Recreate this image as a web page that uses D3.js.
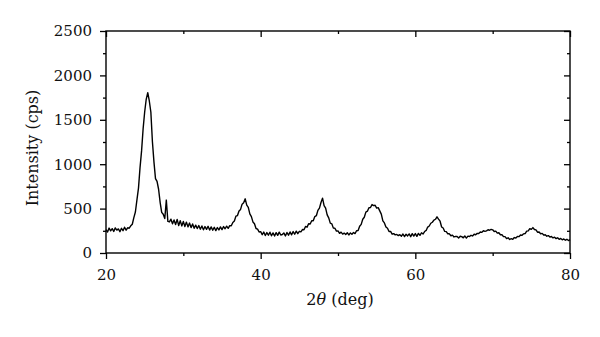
<!DOCTYPE html>
<html>
<head>
<meta charset="utf-8">
<script src="https://cdn.jsdelivr.net/npm/d3@7"></script>
<style>
  body { margin: 0; background: #fff; }
  svg { display: block; }
</style>
</head>
<body>
<div id="chart"></div>
<script>
var width = 600
var height = 337
var margin = {top: 31, right: 30, bottom: 84, left: 106}

// scan: 2theta from 20 to 80 deg, one reading every 0.2 deg
var scanStart = 20
var scanStep = 0.2
var intensity = [
    262, 236, 281, 249, 274,   // 20
    243, 283, 258, 271, 240,   // 21
    278, 251, 290, 257, 284,   // 22
    279, 306, 324, 399, 462,   // 23
    598, 731, 962, 1150, 1399, // 24
    1588, 1731, 1806, 1712, 1588, // 25
    1255, 1026, 838, 806, 718, // 26
    571, 458, 436, 388, 596,   // 27
    356, 350, 381, 329, 372,   // 28
    320, 379, 309, 364, 305,   // 29
    355, 298, 348, 294, 337,   // 30
    286, 327, 279, 314, 276,   // 31
    309, 268, 304, 262, 298,   // 32
    266, 301, 258, 294, 256,   // 33
    290, 252, 287, 260, 294,   // 34
    264, 298, 273, 302, 278,   // 35
    308, 307, 344, 360, 415,   // 36
    422, 474, 491, 550, 566,   // 37
    610, 540, 514, 440, 410,   // 38
    350, 330, 276, 269, 236,   // 39
    240, 206, 236, 197, 230,   // 40
    201, 234, 194, 226, 191,   // 41
    229, 199, 235, 203, 208,   // 42
    226, 192, 231, 201, 237,   // 43
    205, 241, 211, 246, 217,   // 44
    244, 238, 264, 262, 299,   // 45
    291, 330, 326, 364, 364,   // 46
    410, 420, 480, 506, 569,   // 47
    618, 534, 505, 430, 396,   // 48
    336, 329, 280, 279, 246,   // 49
    249, 221, 235, 213, 224,   // 50
    207, 228, 203, 226, 210,   // 51
    231, 219, 251, 253, 301,   // 52
    322, 380, 402, 460, 471,   // 53
    510, 512, 545, 533, 538,   // 54
    506, 511, 474, 438, 362,   // 55
    339, 292, 278, 242, 243,   // 56
    212, 218, 204, 209, 196,   // 57
    206, 189, 214, 185, 211,   // 58
    192, 215, 184, 218, 191,   // 59
    219, 188, 221, 199, 228,   // 60
    214, 242, 254, 292, 304,   // 61
    335, 346, 370, 380, 408,   // 62
    382, 358, 293, 281, 243,   // 63
    241, 216, 216, 194, 201,   // 64
    181, 187, 186, 170, 189,   // 65
    184, 171, 192, 168, 190,   // 66
    186, 199, 192, 211, 206,   // 67
    221, 219, 236, 232, 251,   // 68
    244, 249, 262, 256, 266,   // 69
    261, 242, 246, 224, 228,   // 70
    206, 206, 184, 184, 162,   // 71
    171, 152, 161, 154, 174,   // 72
    169, 186, 184, 202, 199,   // 73
    216, 219, 246, 249, 274,   // 74
    266, 286, 264, 261, 234,   // 75
    236, 216, 221, 202, 206,   // 76
    189, 196, 179, 186, 170,   // 77
    178, 162, 171, 154, 164,   // 78
    149, 158, 144, 154, 140,   // 79
    150                        // 80
]

var xDomain = [20, 80]
var yDomain = [0, 2500]
var xMajor = [20, 40, 60, 80]
var xMinor = [30, 50, 70]
var yMajor = [0, 500, 1000, 1500, 2000, 2500]
var yMinor = [250, 750, 1250, 1750, 2250]

var points = intensity.map(function(v, i) {
    return {t: scanStart + i * scanStep, v: v}
})

var w = width - margin.left - margin.right
var h = height - margin.top - margin.bottom

var svg = d3.select("#chart").append("svg")
    .attr("width", width)
    .attr("height", height)

var g = svg.append("g")
    .attr("transform", "translate(" + margin.left + "," + margin.top + ")")

var x = d3.scaleLinear().domain(xDomain).range([0, w])
var y = d3.scaleLinear().domain(yDomain).range([h, 0])

function styleAxis(sel) {
    sel.select(".domain").remove()
    sel.selectAll("line").attr("stroke", "#000").attr("stroke-width", 1.3)
    sel.selectAll("text")
        .style("font-family", "'DejaVu Serif', serif")
        .style("font-size", "15px")
        .attr("fill", "#111")
}

// bottom: labelled majors + short minors, outward
g.append("g").attr("transform", "translate(0," + h + ")")
    .call(d3.axisBottom(x).tickValues(xMajor).tickSize(6).tickPadding(10).tickFormat(d3.format("d")))
    .call(styleAxis)
g.append("g").attr("transform", "translate(0," + h + ")")
    .call(d3.axisBottom(x).tickValues(xMinor).tickSize(3).tickFormat(""))
    .call(styleAxis)

// left
g.append("g")
    .call(d3.axisLeft(y).tickValues(yMajor).tickSize(6).tickPadding(8).tickFormat(d3.format("d")))
    .call(styleAxis)
g.append("g")
    .call(d3.axisLeft(y).tickValues(yMinor).tickSize(3).tickFormat(""))
    .call(styleAxis)

// top and right mirror ticks, pointing in
g.append("g")
    .call(d3.axisTop(x).tickValues(xMajor).tickSize(-6).tickFormat(""))
    .call(styleAxis)
g.append("g")
    .call(d3.axisTop(x).tickValues(xMinor).tickSize(-3).tickFormat(""))
    .call(styleAxis)
g.append("g").attr("transform", "translate(" + w + ",0)")
    .call(d3.axisRight(y).tickValues(yMajor).tickSize(-6).tickFormat(""))
    .call(styleAxis)
g.append("g").attr("transform", "translate(" + w + ",0)")
    .call(d3.axisRight(y).tickValues(yMinor).tickSize(-3).tickFormat(""))
    .call(styleAxis)

// frame
g.append("rect")
    .attr("width", w)
    .attr("height", h)
    .attr("fill", "none")
    .attr("stroke", "#000")
    .attr("stroke-width", 1.4)

var line = d3.line()
    .x(function(d) { return x(d.t) })
    .y(function(d) { return y(d.v) })

g.append("path")
    .datum(points)
    .attr("fill", "none")
    .attr("stroke", "#000")
    .attr("stroke-width", 1.4)
    .attr("stroke-linejoin", "round")
    .attr("d", line)

// axis titles
var xTitle = svg.append("text")
    .attr("x", margin.left + w / 2 + 2)
    .attr("y", 305)
    .attr("text-anchor", "middle")
    .style("font-family", "'DejaVu Serif', serif")
    .style("font-size", "16px")
    .attr("fill", "#111")
xTitle.append("tspan").text("2")
xTitle.append("tspan").style("font-style", "italic").text("θ")
xTitle.append("tspan").text(" (deg)")

svg.append("text")
    .attr("transform", "translate(38," + (margin.top + h / 2 + 6) + ") rotate(-90)")
    .attr("text-anchor", "middle")
    .style("font-family", "'DejaVu Serif', serif")
    .style("font-size", "16px")
    .attr("fill", "#111")
    .text("Intensity (cps)")
</script>
</body>
</html>
